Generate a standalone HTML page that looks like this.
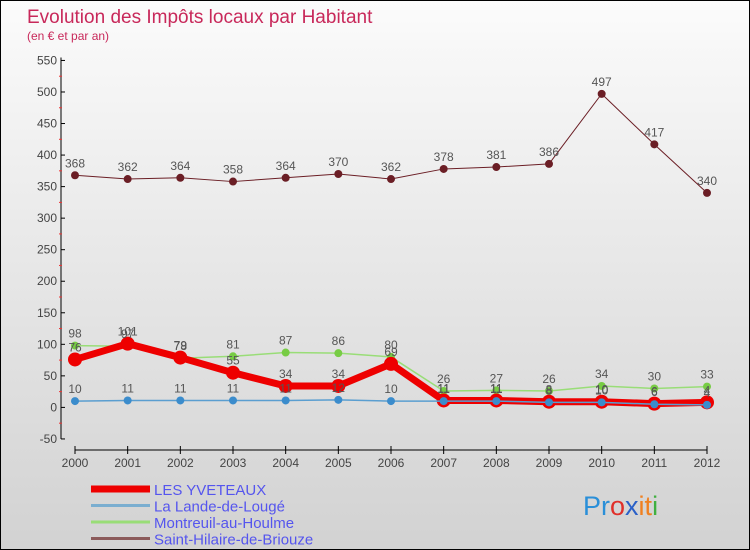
<!DOCTYPE html>
<html><head><meta charset="utf-8"><style>
html,body{margin:0;padding:0}
body{width:750px;height:550px;overflow:hidden;font-family:"Liberation Sans",sans-serif}
#wrap{position:relative;width:748px;height:548px;border:1px solid #000;background:linear-gradient(#fbfbfb,#d2d2d2)}
svg{position:absolute;left:0;top:0}
</style></head><body>
<div id="wrap">
<svg id="chart" width="748" height="548"></svg>
</div>
<script>
const years=[2000,2001,2002,2003,2004,2005,2006,2007,2008,2009,2010,2011,2012];
const yTicks=[550,500,450,400,350,300,250,200,150,100,50,0,-50];
const yvetVals=[76,101,79,55,34,34,69,11,11,9,9,6,8];
const yvetLabels=["76","101","79","55","34","34","69","11","11","8","10","6","4"];
const landeVals=[10,11,11,11,11,12,10,10,10,8,8,5,4];
const landeLabels=["10","11","11","11","11","12","10","11","11","8","10","6","4"];
const montVals=[98,97,78,81,87,86,80,26,27,26,34,30,33];
const hilaireVals=[368,362,364,358,364,370,362,378,381,386,497,417,340];
const names=["LES YVETEAUX","La Lande-de-Lougé","Montreuil-au-Houlme","Saint-Hilaire-de-Briouze"];

const NS="http://www.w3.org/2000/svg";
const svg=document.getElementById('chart');
const X=i=>74+i*(632/12);
const Y=v=>406.4+(-v)*(378.5/600);
function el(t,a,txt){const e=document.createElementNS(NS,t);for(const k in a)e.setAttribute(k,a[k]);if(txt!==undefined)e.textContent=txt;svg.appendChild(e);return e;}

let t=el('text',{x:26,y:22,'font-size':19,fill:'#c8285a'},'Evolution des Impôts locaux par Habitant');

t=el('text',{x:26,y:39,'font-size':12,fill:'#c8285a'},'(en € et par an)');


let ax=el('line',{x1:60,y1:Y(550)-3,x2:60,y2:Y(-50),stroke:'#000','stroke-width':1});

yTicks.forEach(v=>{
 el('line',{x1:60,y1:Y(v),x2:64,y2:Y(v),stroke:'#000'});
 const l=el('text',{x:56,y:Y(v)+4,'font-size':12,fill:'#444','text-anchor':'end'},String(v));
 
 if(v>-50){el('line',{x1:58,y1:Y(v-25),x2:61,y2:Y(v-25),stroke:'#e33'});}
});
ax=el('line',{x1:X(0),y1:449,x2:X(12),y2:449,stroke:'#000'});

years.forEach((y,i)=>{
 el('line',{x1:X(i),y1:445,x2:X(i),y2:453,stroke:'#000'});
 const l=el('text',{x:X(i),y:466,'font-size':12,fill:'#444','text-anchor':'middle'},String(y));
 
});

function series(vals,color,lw,r,fill,name){
 const p=el('polyline',{points:vals.map((v,i)=>X(i)+','+Y(v)).join(' '),fill:'none',stroke:color,'stroke-width':lw,'stroke-linejoin':'round'});
 
 vals.forEach((v,i)=>{
  const c=el('circle',{cx:X(i),cy:Y(v),r:r,fill:fill});
  
 });
}
function labelsFor(vals,labels,name){
 vals.forEach((v,i)=>{
  const l=el('text',{x:X(i),y:Y(v)-8,'font-size':12,fill:'#555','text-anchor':'middle'},labels[i]);
  
 });
}
series(hilaireVals,'#6b1e25',1,4,'#6b1e25','saint-hilaire');
series(montVals,'#99dd77',1.5,4,'#77cc44','montreuil');
series(yvetVals,'#ee0000',7,7,'#ee0000','les-yveteaux');
series(landeVals,'#5a9ed0',1.5,4,'#3b8ccc','la-lande');
labelsFor(hilaireVals,hilaireVals.map(String),'saint-hilaire');
labelsFor(montVals,montVals.map(String),'montreuil');
labelsFor(yvetVals,yvetLabels,'les-yveteaux');
labelsFor(landeVals,landeLabels,'la-lande');

const lc=['#ee0000','#7aaed0','#99dd77','#8b5a5a'];
const lw=[7,3,3,3];
names.forEach((n,i)=>{
 const yy=492+i*16.5;
 const s=el('line',{x1:90,y1:yy-4,x2:149,y2:yy-4,stroke:lc[i],'stroke-width':lw[i]});
 
 const l=el('text',{x:153,y:yy+2,'font-size':15,fill:'#5555ee'},n);
 
});
const g=el('text',{x:582,y:514,'font-size':27});

['P','r','o','x','i','t','i'].forEach((ch,i)=>{
 const ts=document.createElementNS(NS,'tspan');
 ts.setAttribute('fill',['#2a8fd8','#2a8fd8','#e0302a','#2a60c8','#f08020','#f08020','#40b040'][i]);
 ts.textContent=ch;g.appendChild(ts);
});
</script>
</body></html>
